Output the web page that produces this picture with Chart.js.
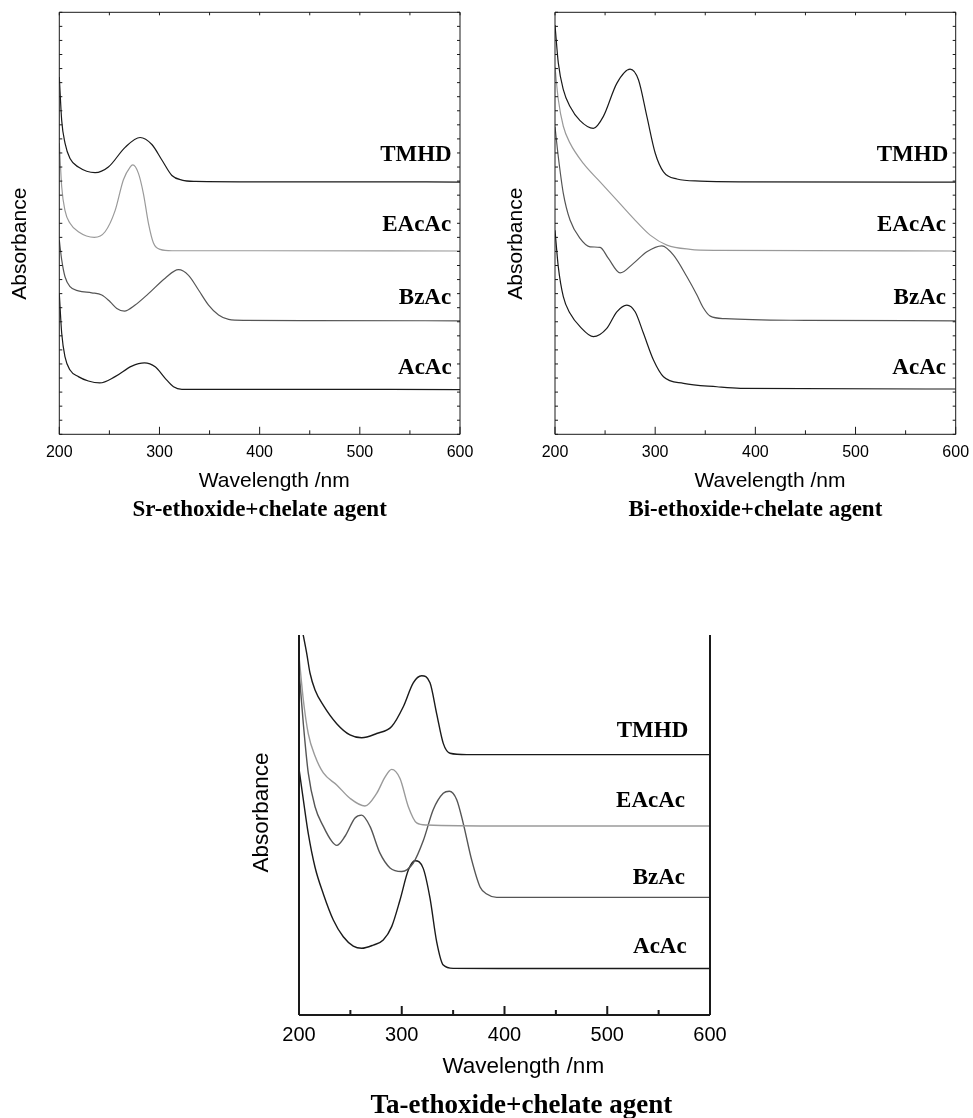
<!DOCTYPE html>
<html>
<head>
<meta charset="utf-8">
<script src="https://cdn.jsdelivr.net/npm/chart.js@4/dist/chart.umd.min.js"></script>
<style>
  html, body { margin: 0; padding: 0; background: #fff; overflow: hidden; }
  #page { position: relative; width: 973px; height: 1118px; }
  .box { position: absolute; }
</style>
</head>
<body>
<div id="page">
  <div class="box" style="left:0;top:0;width:480px;height:530px"><canvas id="srChart"></canvas></div>
  <div class="box" style="left:490px;top:0;width:483px;height:530px"><canvas id="biChart"></canvas></div>
  <div class="box" style="left:240px;top:615px;width:500px;height:505px"><canvas id="taChart"></canvas></div>
</div>
<script>
const agents = ["TMHD", "EAcAc", "BzAc", "AcAc"];
const agentColors = ["#1a1a1a", "#9a9a9a", "#555555", "#1a1a1a"];
const wavelengthTicks = [200, 300, 400, 500, 600];

// Sr-ethoxide + chelate agent (offset absorbance, arbitrary units)
const srTmhdNm = [200, 202.4, 205.7, 210.7, 219, 235.7, 249, 265.7, 280.7, 292.4, 302.4, 312.4, 322.4, 335.7, 400, 500, 600];
const srTmhdAbs = [25.4, 22.3, 20.7, 19.6, 19.0, 18.6, 19.0, 20.4, 21.1, 20.6, 19.5, 18.4, 18.07, 17.98, 17.95, 17.95, 17.93];
const srEacacNm = [200, 202.4, 205.7, 210.7, 219, 235, 245.7, 255.7, 264, 270.7, 273.4, 279, 284, 289, 294, 300.7, 312.4, 400, 600];
const srEacacAbs = [20.7, 17.6, 15.9, 15.0, 14.4, 14.0, 14.4, 15.9, 18.1, 19.0, 19.15, 18.55, 17.1, 15.0, 13.6, 13.15, 13.05, 13.05, 13.03];
const srBzacNm = [200, 202.4, 205.7, 210.7, 219, 232.4, 242.4, 250.7, 257.4, 265, 275.7, 289, 305.7, 319, 329, 339, 349, 359, 369, 385.7, 450, 600];
const srBzacAbs = [13.8, 12.4, 11.2, 10.5, 10.2, 10.06, 9.9, 9.42, 8.95, 8.76, 9.19, 10.0, 11.1, 11.7, 11.3, 10.26, 9.19, 8.48, 8.17, 8.1, 8.08, 8.07];
const srAcacNm = [200, 202.4, 205.7, 210.7, 219, 229, 240.4, 255.7, 272.4, 285, 295.7, 305.7, 314, 322.4, 400, 600];
const srAcacAbs = [10.0, 7.18, 5.5, 4.57, 4.1, 3.79, 3.65, 4.1, 4.85, 5.08, 4.8, 3.98, 3.38, 3.2, 3.2, 3.18];

// Bi-ethoxide + chelate agent
const biTmhdNm = [200, 203.3, 208.3, 215, 225, 238.3, 248.3, 261.7, 275, 283.3, 291.7, 300, 308.3, 321.7, 345, 385, 600];
const biTmhdAbs = [29.1, 26.4, 24.5, 23.3, 22.3, 21.75, 22.6, 24.95, 25.96, 25.2, 22.6, 20.0, 18.66, 18.15, 18.0, 17.95, 17.93];
const biEacacNm = [200, 203.3, 208.3, 215, 228.3, 245, 261.7, 278.3, 295, 311.7, 335, 361.7, 600];
const biEacacAbs = [26.1, 23.8, 21.9, 20.7, 19.26, 17.95, 16.65, 15.35, 14.16, 13.45, 13.15, 13.08, 13.03];
const biBzacNm = [200, 203.3, 208.3, 215, 225, 235, 245, 253.3, 265, 278.3, 291.7, 306.7, 318.3, 331.7, 341.7, 348, 355, 370, 450, 600];
const biBzacAbs = [21.86, 19.73, 17.13, 15.23, 13.93, 13.33, 13.29, 12.5, 11.47, 12.15, 12.98, 13.4, 12.74, 11.2, 9.9, 9.0, 8.4, 8.22, 8.1, 8.07];
const biAcacNm = [200, 203.3, 208.3, 215, 225, 238.3, 251.7, 261.7, 271.7, 280, 288.3, 298.3, 308.3, 328.3, 361.7, 385, 600];
const biAcacAbs = [14.5, 11.9, 9.78, 8.6, 7.65, 6.94, 7.53, 8.71, 9.19, 8.71, 7.18, 5.28, 4.09, 3.62, 3.38, 3.27, 3.22];

// Ta-ethoxide + chelate agent
const taTmhdNm = [200, 207.5, 210.7, 215.6, 223.7, 236.7, 249.6, 261, 275.6, 290.2, 301.5, 311.2, 319.4, 327.5, 334, 340.4, 347, 363.2, 450, 600];
const taTmhdAbs = [28.5, 25.7, 24.3, 23.1, 22.0, 20.7, 19.9, 19.7, 20.0, 20.5, 21.9, 23.6, 24.1, 23.6, 21.4, 19.3, 18.6, 18.5, 18.5, 18.5];
const taEacacNm = [200, 204.2, 209, 215.6, 223.7, 236.7, 249.6, 264.2, 275.6, 283.7, 290.2, 298.3, 306.4, 314.5, 324.3, 400, 600];
const taEacacAbs = [25.5, 22.4, 20.0, 18.4, 17.2, 16.35, 15.4, 14.85, 15.75, 16.9, 17.45, 16.8, 14.8, 13.65, 13.5, 13.43, 13.43];
const taBzacNm = [200, 204.2, 209, 215.6, 223.7, 231.8, 236.7, 244.8, 254.5, 261, 269.1, 278.8, 288.6, 300, 311.2, 321, 330.7, 340.4, 346.3, 353.5, 359.9, 368.1, 376.2, 382.7, 392.4, 450, 600];
const taBzacAbs = [24.5, 20.7, 17.2, 14.8, 13.4, 12.35, 12.05, 12.7, 14.0, 14.2, 13.4, 11.5, 10.45, 10.2, 10.8, 12.4, 14.6, 15.75, 15.9, 15.3, 13.6, 11.0, 9.1, 8.6, 8.36, 8.36, 8.36];
const taAcacNm = [200, 204.2, 209, 215.6, 223.7, 233.4, 243.1, 252.8, 261, 272.3, 282, 290.2, 298.3, 306.4, 312.9, 321, 327.5, 334, 340.4, 350.2, 400, 600];
const taAcacAbs = [17.5, 15.3, 12.9, 10.5, 8.6, 6.75, 5.56, 4.9, 4.74, 4.97, 5.33, 6.28, 8.17, 10.3, 10.96, 10.4, 8.3, 5.2, 3.55, 3.31, 3.3, 3.3];

// where the agent names sit (wavelength of right edge, offset absorbance of centre)
const srLabelNm = [591.7, 591.2, 591.2, 591.7];
const srLabelAbs = [19.85, 14.88, 9.69, 4.71];
const biLabelNm = [592.6, 590.3, 590.3, 590.3];
const biLabelAbs = [19.85, 14.88, 9.69, 4.71];
const taLabelNm = [578.9, 575.7, 575.7, 577.3];
const taLabelAbs = [20.18, 15.2, 9.74, 4.8];

const sans = "'Liberation Sans', Arial, sans-serif";
const serif = "'Liberation Serif', 'Times New Roman', serif";
const NB = "\u00a0";

function toPoints(xs, ys) {
  return xs.map((v, i) => ({ x: v, y: ys[i] }));
}

// frame, inward tick marks and the agent names
const decor = {
  id: "decor",
  afterDatasetsDraw(chart, args, o) {
    const { ctx, chartArea: a, scales } = chart;
    const x = scales.x, y = scales.y;
    const seg = (x1, y1, x2, y2) => { ctx.moveTo(x1, y1); ctx.lineTo(x2, y2); };
    ctx.save();
    ctx.strokeStyle = o.color;
    ctx.lineWidth = o.lineWidth;
    ctx.beginPath();
    seg(a.left, a.top, a.left, a.bottom);
    seg(a.left, a.bottom, a.right, a.bottom);
    seg(a.right, a.bottom, a.right, a.top);
    if (o.boxTop) seg(a.left, a.top, a.right, a.top);
    ctx.stroke();

    ctx.beginPath();
    for (let v = x.min; v <= x.max; v += 50) {
      const px = x.getPixelForValue(v);
      const len = v % 100 === 0 ? o.xMajor : o.xMinor;
      seg(px, a.bottom, px, a.bottom - len);
      if (o.boxTop) seg(px, a.top, px, a.top + o.topTick);
    }
    if (o.yTick) {
      for (let v = y.min; v <= y.max; v++) {
        const py = y.getPixelForValue(v);
        seg(a.left, py, a.left + o.yTick, py);
        seg(a.right, py, a.right - o.yTick, py);
      }
    }
    ctx.stroke();

    ctx.fillStyle = "#000";
    ctx.font = "bold " + o.labelSize + "px " + serif;
    ctx.textAlign = "right";
    ctx.textBaseline = "middle";
    agents.forEach((name, i) => {
      ctx.fillText(name, x.getPixelForValue(o.labelNm[i]), y.getPixelForValue(o.labelAbs[i]));
    });
    ctx.restore();
  }
};

function makeChart(id, series, g) {
  const datasets = series.map((s, i) => ({
    label: agents[i],
    data: toPoints(s[0], s[1]),
    borderColor: agentColors[i],
    borderWidth: g.lineWidth,
    pointRadius: 0,
    fill: false,
    cubicInterpolationMode: "monotone"
  }));

  return new Chart(document.getElementById(id), {
    type: "line",
    data: { datasets: datasets },
    plugins: [decor],
    options: {
      responsive: true,
      maintainAspectRatio: false,
      animation: false,
      layout: { padding: g.padding },
      plugins: {
        legend: { display: false },
        tooltip: { enabled: false },
        title: {
          display: true,
          text: g.title,
          position: "bottom",
          fullSize: false,
          color: "#000",
          font: { family: serif, size: g.titleSize, weight: "bold", lineHeight: 1 },
          padding: { top: g.titleGap, bottom: 0 }
        },
        decor: {
          color: "#1a1a1a",
          lineWidth: g.frameWidth,
          boxTop: g.boxTop,
          xMajor: g.xMajor,
          xMinor: g.xMinor,
          topTick: 3,
          yTick: g.yTick,
          labelSize: 23,
          labelNm: g.labelNm,
          labelAbs: g.labelAbs
        }
      },
      scales: {
        x: {
          type: "linear",
          min: 200,
          max: 600,
          afterBuildTicks: (s) => { s.ticks = wavelengthTicks.map((v) => ({ value: v })); },
          afterFit: (s) => { s.height = g.xHeight; },
          // invisible tick marks only make room between axis and labels
          grid: {
            display: true,
            drawOnChartArea: false,
            drawTicks: true,
            tickLength: g.tickPad,
            color: "rgba(0,0,0,0)"
          },
          border: { display: false },
          ticks: {
            color: "#000",
            padding: 0,
            maxRotation: 0,
            font: { family: sans, size: g.tickSize }
          },
          title: {
            display: true,
            text: g.xTitle,
            color: "#000",
            padding: 0,
            font: { family: sans, size: g.axisTitleSize, lineHeight: 1 }
          }
        },
        y: {
          type: "linear",
          min: 0,
          max: g.yMax,
          afterFit: (s) => { s.width = g.yWidth; },
          grid: { display: false, drawTicks: false },
          border: { display: false },
          ticks: { display: false },
          title: {
            display: true,
            text: g.yTitle,
            color: "#000",
            padding: { top: g.yTitlePad, bottom: 0 },
            font: { family: sans, size: g.axisTitleSize, lineHeight: 1 }
          }
        }
      }
    }
  });
}

const topCommon = {
  lineWidth: 1.2,
  frameWidth: 1,
  boxTop: true,
  xMajor: 7.5,
  xMinor: 4,
  yTick: 3,
  yMax: 30,
  xHeight: 57.6,
  tickPad: 8.8,
  tickSize: 16,
  axisTitleSize: 21,
  titleSize: 23,
  titleGap: 6.6,
  xTitle: NB.repeat(5) + "Wavelength /nm",
  yTitle: "Absorbance" + NB.repeat(7)
};

makeChart("srChart",
  [[srTmhdNm, srTmhdAbs], [srEacacNm, srEacacAbs], [srBzacNm, srBzacAbs], [srAcacNm, srAcacAbs]],
  Object.assign({}, topCommon, {
    padding: { top: 12.3, left: 0, right: 20, bottom: 8.5 },
    yWidth: 59.3,
    yTitlePad: 9.5,
    title: "Sr-ethoxide+chelate agent",
    labelNm: srLabelNm,
    labelAbs: srLabelAbs
  }));

makeChart("biChart",
  [[biTmhdNm, biTmhdAbs], [biEacacNm, biEacacAbs], [biBzacNm, biBzacAbs], [biAcacNm, biAcacAbs]],
  Object.assign({}, topCommon, {
    padding: { top: 12.3, left: 0, right: 17.3, bottom: 8.5 },
    yWidth: 65,
    yTitlePad: 15.3,
    title: "Bi-ethoxide+chelate agent",
    labelNm: biLabelNm,
    labelAbs: biLabelAbs
  }));

makeChart("taChart",
  [[taTmhdNm, taTmhdAbs], [taEacacNm, taEacacAbs], [taBzacNm, taBzacAbs], [taAcacNm, taAcacAbs]],
  {
    lineWidth: 1.4,
    frameWidth: 2,
    boxTop: false,
    xMajor: 9,
    xMinor: 5,
    yTick: 0,
    yMax: 27,
    padding: { top: 20, left: 0, right: 30, bottom: 0 },
    yWidth: 59,
    yTitlePad: 10.5,
    xHeight: 63,
    tickPad: 8,
    tickSize: 20,
    axisTitleSize: 22.5,
    titleSize: 27,
    titleGap: 15,
    xTitle: NB.repeat(6) + "Wavelength /nm",
    yTitle: NB.repeat(4) + "Absorbance",
    title: NB.repeat(5) + "Ta-ethoxide+chelate agent",
    labelNm: taLabelNm,
    labelAbs: taLabelAbs
  });
</script>
</body>
</html>
